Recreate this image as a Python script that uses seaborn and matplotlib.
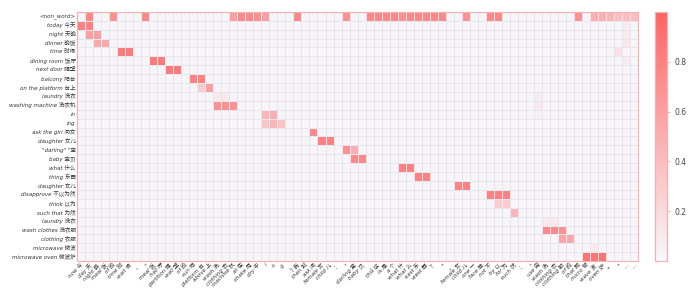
import numpy as np
import pandas as pd
import matplotlib
matplotlib.use('Agg')
import matplotlib.pyplot as plt
import seaborn as sns
from matplotlib.colors import LinearSegmentedColormap

row_labels = ['<non_word>', 'today 今天', 'night 天晚', 'dinner 晚饭', 'time 时候',
              'dining room 饭厅', 'next door 隔壁', 'balcony 阳台', 'on the platform 台上',
              'laundry 洗衣', 'washing machine 洗衣机', 'in', 'ing', 'ask the girl 问女',
              'daughter 女儿', '"darling" "宝', 'baby 宝贝', 'what 什么', 'thing 东西',
              'daughter 女儿', 'disapprove 不以为然', 'think 以为', 'such that 为然',
              'laundry 洗衣', 'wash clothes 洗衣服', 'clothing 衣服', 'microwave 微波',
              'microwave oven 微波炉']

col_labels = ['now 今', 'day 天', 'night 晚', 'meal 饭', 'of 的', 'time 时', 'wait 候', '，',
              '“', 'meal 饭', 'hall 厅', 'partition 隔', 'wall 壁', 'of 的', 'sun 阳',
              'platform 台', 'above 上', 'wash 洗', 'clothing 衣', 'machine 机', 'at 在',
              'shake 甩', 'dry 干', 'i', 'n', 'g', '，', 'I 我', 'then 就', 'ask 问',
              'female 女', 'child 儿', '：', '“', 'darling 宝', 'baby 贝', '，', 'this 这',
              'is 是', 'a 个', 'what 什', 'what 么', 'east 东', 'west 西', '？', '”', '，',
              'female 女', 'child 儿', 'one 一', 'face 脸', 'not 不', 'by 以', 'for 为',
              'such 然', '：', '“', 'use 用', 'wash 洗', 'clothing 衣', 'clothing 服',
              'of 的', 'that 那', 'micro 微', 'wave 波', 'oven 炉', '。', '”', '…', '…']

# (column index, weight) for every row, other cells stay near zero
row_weights = [
    [(1, 0.75), (4, 0.7), (8, 0.75), (19, 0.6), (20, 0.75), (21, 0.75), (22, 0.7),
     (23, 0.6), (27, 0.75), (33, 0.7), (36, 0.75), (37, 0.75), (38, 0.75), (39, 0.75),
     (40, 0.7), (41, 0.75), (42, 0.75), (43, 0.75), (44, 0.75), (45, 0.75), (48, 0.7),
     (51, 0.75), (52, 0.75), (62, 0.7), (64, 0.5), (65, 0.5), (66, 0.45), (67, 0.4),
     (68, 0.4), (69, 0.4)],
    [(0, 0.8), (1, 0.8), (68, 0.08)],
    [(1, 0.6), (2, 0.6), (68, 0.1)],
    [(2, 0.55), (3, 0.55), (68, 0.12)],
    [(5, 0.85), (6, 0.85), (67, 0.15)],
    [(9, 0.85), (10, 0.85), (68, 0.08)],
    [(11, 0.85), (12, 0.85)],
    [(14, 0.8), (15, 0.8)],
    [(15, 0.3), (16, 0.6)],
    [(17, 0.1), (18, 0.1), (57, 0.08)],
    [(17, 0.7), (18, 0.7), (19, 0.7), (57, 0.1)],
    [(23, 0.45), (24, 0.5), (57, 0.06)],
    [(23, 0.35), (24, 0.45), (25, 0.35)],
    [(29, 0.75)],
    [(30, 0.8), (31, 0.8)],
    [(33, 0.7), (34, 0.5)],
    [(34, 0.75), (35, 0.75)],
    [(40, 0.8), (41, 0.8)],
    [(42, 0.8), (43, 0.8)],
    [(47, 0.8), (48, 0.8)],
    [(51, 0.8), (52, 0.8), (53, 0.8)],
    [(52, 0.3), (53, 0.3)],
    [(54, 0.45)],
    [(58, 0.1), (59, 0.1)],
    [(58, 0.75), (59, 0.75), (60, 0.7)],
    [(60, 0.55), (61, 0.55)],
    [(64, 0.1)],
    [(63, 0.9), (64, 0.9), (65, 0.9)],
]

mat = np.full((len(row_labels), len(col_labels)), 0.02)
for r, pairs in enumerate(row_weights):
    for c, v in pairs:
        mat[r, c] = v
df = pd.DataFrame(mat, index=row_labels, columns=col_labels)

cmap = LinearSegmentedColormap.from_list('attn', ['#f8f8fc', '#ff6464'])
fam = ['DejaVu Sans', 'Noto Sans CJK SC']
plt.rcParams['font.family'] = fam

fig = plt.figure(figsize=(6.93, 3.04), dpi=100)
ax = fig.add_axes([0.111, 0.141, 0.81, 0.82])
cax = fig.add_axes([0.945, 0.141, 0.017, 0.82])
sns.heatmap(df, ax=ax, cbar_ax=cax, cmap=cmap, vmin=0, vmax=1,
            linewidths=0.5, linecolor='#e6e6ee', xticklabels=True, yticklabels=True)

ax.tick_params(length=0, pad=1, labelcolor='#333333')
for t in ax.get_yticklabels():
    t.set_fontsize(4)
    t.set_fontstyle('italic')
    t.set_family(fam)
for t in ax.get_xticklabels():
    t.set_fontsize(4)
    t.set_fontstyle('italic')
    t.set_family(fam)
    t.set_rotation(45)
    t.set_ha('right')
    t.set_rotation_mode('anchor')

for s in ax.spines.values():
    s.set_visible(True)
    s.set_color('#f5b0b0')
    s.set_linewidth(0.8)

cax.set_yticks([0.2, 0.4, 0.6, 0.8])
cax.tick_params(labelsize=5.5, length=2, color='#f5b0b0', labelcolor='#444444')
for s in cax.spines.values():
    s.set_visible(True)
    s.set_color('#f5b0b0')
    s.set_linewidth(0.8)

fig.savefig('out.png', dpi=100)
